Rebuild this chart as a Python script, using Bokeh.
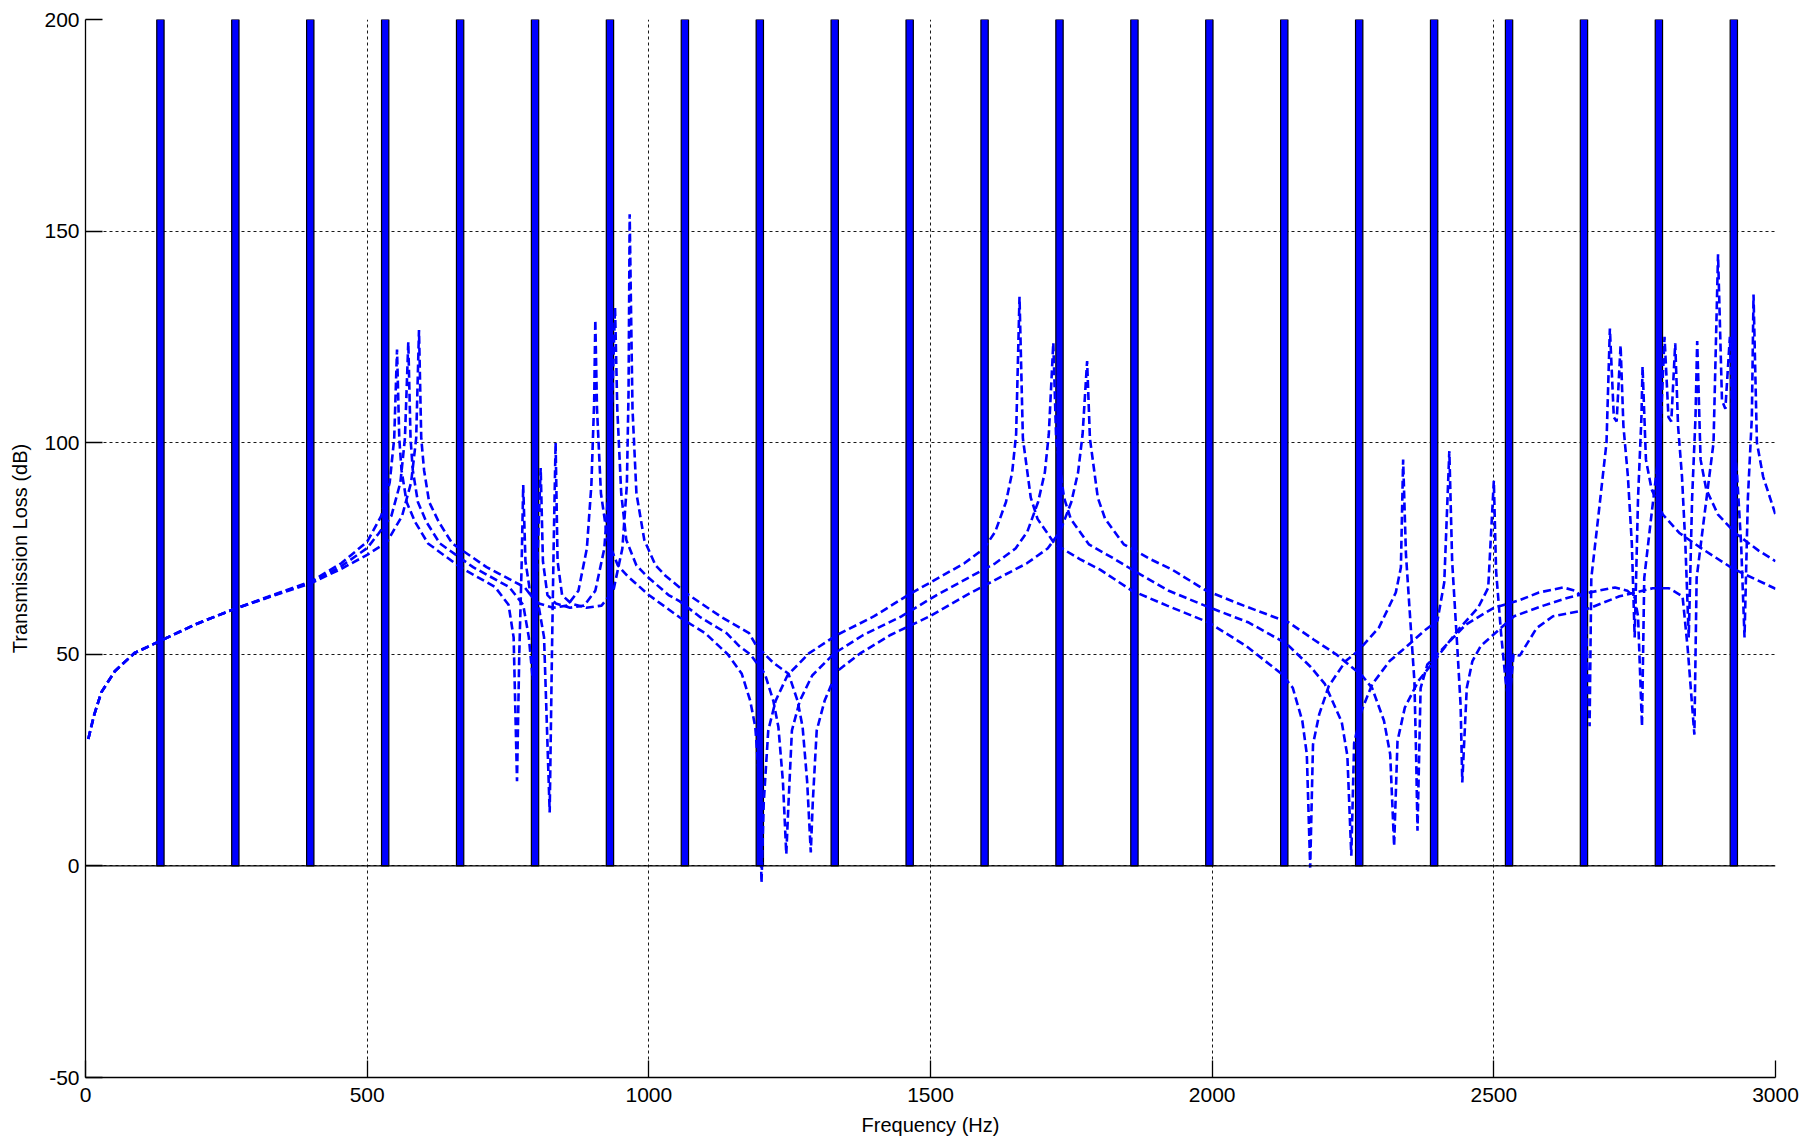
from bokeh.plotting import figure
from bokeh.models import FixedTicker, Span, Range1d
from bokeh.embed import file_html
from bokeh.resources import INLINE

# ---------------- data ----------------
x_ticks = [0, 500, 1000, 1500, 2000, 2500, 3000]
y_ticks = [-50, 0, 50, 100, 150, 200]
y_tick_labels = {-50: "-50", 0: "0", 50: "50", 100: "100", 150: "150", 200: "200"}

# harmonic bars (Hz) and their height (dB)
bar_freq = [133, 266, 399, 532, 665, 798, 931, 1064, 1197, 1330, 1463,
            1596, 1729, 1862, 1995, 2128, 2261, 2394, 2527, 2660, 2793, 2926]
bar_top = [200, 200, 200, 200, 200, 200, 200, 200, 200, 200, 200,
           200, 200, 200, 200, 200, 200, 200, 200, 200, 200, 200]

# curve A
fA = [5, 15, 28, 52, 87, 130, 194, 260, 324, 400, 454, 500, 525, 540, 548, 553, 557, 561, 570, 585,
      608, 665, 727, 751, 760, 766, 770, 774, 777, 781, 790, 805, 830, 855, 875, 890, 898, 903, 905, 908,
      915, 927, 945, 962, 1000, 1055, 1100, 1140, 1165, 1180, 1189, 1196, 1200, 1204, 1212, 1225, 1246,
      1284, 1333, 1400, 1460, 1520, 1560, 1595, 1615, 1634, 1645, 1652, 1658, 1664, 1678, 1690, 1721,
      1765, 1801, 1858, 1920, 1994, 2060, 2123, 2143, 2160, 2168, 2174, 2179, 2190, 2207, 2237, 2259,
      2296, 2326, 2335, 2339, 2344, 2353, 2359, 2362, 2364.5, 2370, 2382, 2394, 2450, 2500, 2546, 2580,
      2623, 2645, 2657, 2663, 2670, 2673, 2685, 2700, 2706, 2713, 2718, 2725, 2730, 2738, 2745, 2750,
      2756, 2762, 2764, 2770, 2780, 2800, 2830, 2870, 2925, 3000]
tlA = [30, 35.5, 41, 46, 50.3, 53, 57, 60.5, 63.6, 67.2, 71.5, 76.6, 82.7, 90.6, 101, 122, 101, 93.5, 86, 81.3,
       76.2, 70.6, 65.9, 61.7, 54, 20, 50, 70, 90, 72, 64, 62, 61, 61.5, 65, 75, 90, 110, 129, 108,
       88, 77, 71, 68.5, 64, 58.7, 55, 50, 45.4, 39, 32.8, 20, -4, 15, 32, 39, 45,
       50.2, 54.5, 59, 64, 68.5, 71.5, 75, 79, 86, 93, 102, 134.5, 101, 87, 82, 76,
       72.5, 70, 65, 61.5, 57.5, 52, 45.4, 42.1, 34.3, 26.4, -0.4, 28.7, 35.8, 42.5, 48.4, 50.8,
       56.3, 64.6, 70.5, 96, 73.6, 55.5, 43.7, 26.4, 8.3, 42, 47.6, 49.2, 57, 61, 62.8, 64.6,
       65.8, 65, 63.5, 59, 33, 68, 82, 100, 127, 106, 105, 123, 104, 92, 76, 54,
       87, 106, 118, 96, 89, 83, 78.6, 74.9, 70.2, 65.5]

# curve B
fB = [5, 15, 28, 52, 87, 130, 194, 260, 324, 400, 454, 500, 520, 543, 559, 567, 573, 577, 581, 590,
      605, 629, 688, 752, 777, 787, 794, 798, 803, 808, 812, 820, 835, 860, 885, 905, 921, 929, 935, 940,
      944, 951, 960, 978, 996, 1035, 1055, 1092, 1138, 1160, 1180, 1206, 1221, 1230, 1238, 1244, 1248,
      1254, 1268, 1290, 1329, 1380, 1449, 1511, 1573, 1615, 1651, 1672, 1691, 1703, 1710, 1718, 1723,
      1737, 1749, 1781, 1827, 1864, 1923, 1987, 2065, 2132, 2175, 2200, 2230, 2240, 2247, 2252, 2265,
      2284, 2315, 2338, 2376, 2400, 2412, 2421, 2426, 2435, 2441, 2444, 2452, 2462, 2477, 2536, 2588,
      2635, 2670, 2715, 2737, 2750, 2756, 2763, 2767, 2779, 2795, 2803, 2810, 2815, 2822, 2827, 2834,
      2840, 2846, 2852, 2858, 2861, 2867, 2877, 2898, 2929, 2970, 3000]
tlB = [30, 35.5, 41, 46, 50.3, 53, 57, 60.5, 63.5, 67, 70.8, 75.1, 78.5, 82.7, 90.6, 101, 123.8, 101, 93.5, 86,
       81.3, 76.2, 70.6, 65.9, 61.7, 54, 44, 55, 75, 94, 72, 64, 62, 61, 61.5, 65, 75, 90, 110, 132,
       108, 88, 77, 71, 68.5, 64, 62.5, 58.7, 55, 52, 50, 45.4, 39, 32.8, 20, 2.8, 15,
       32, 39, 45, 50.2, 54.5, 59, 64, 68.5, 71.5, 75, 79, 86, 93, 102, 123.6, 101,
       87, 82, 76, 72.5, 69.5, 65, 61.5, 57.5, 52.5, 47, 43, 34, 26, 2.4, 29, 36.6,
       42.9, 48.4, 51, 55.5, 58, 67, 98, 72, 52, 38, 19.7, 42.1, 48.4, 52, 59, 61.5,
       63.5, 64.6, 65.8, 65, 63.5, 59, 33, 68, 82, 100, 125, 106, 105, 123.5, 104, 92,
       76, 54, 87, 106, 124, 96, 89, 83, 78.6, 74.5, 72]

# curve C
fC = [5, 15, 28, 52, 87, 130, 194, 260, 324, 400, 454, 500, 535, 562, 578, 587, 592, 596, 601, 610,
      627, 651, 712, 779, 804, 814, 824, 828, 831, 834.5, 838, 846, 862, 889, 916, 937, 953, 961, 964, 966,
      968, 971, 978, 992, 1012, 1030, 1071, 1130, 1178, 1191, 1221, 1248, 1264, 1273, 1281, 1287.5, 1291,
      1298, 1312, 1334, 1375, 1428, 1499, 1564, 1628, 1671, 1708, 1730, 1750, 1762, 1770, 1778, 1783,
      1797, 1810, 1843, 1890, 1929, 1990, 2056, 2136, 2180, 2220, 2266, 2284, 2305, 2316, 2323, 2329,
      2342, 2366, 2394, 2440, 2472, 2490, 2500, 2504, 2513, 2521, 2527, 2535, 2546, 2576, 2605, 2660,
      2723, 2782, 2811, 2835, 2844, 2856, 2860, 2873, 2890, 2898, 2905, 2911, 2919, 2924, 2932, 2939,
      2945, 2951, 2958, 2961, 2967, 2978, 3000]
tlC = [30, 35.5, 41, 46, 50.3, 53, 57, 60.5, 63.4, 66.8, 70.2, 73.5, 76.5, 82.7, 90.6, 101, 126.6, 101, 93.5, 86,
       81.3, 76.2, 70.6, 65.9, 61.7, 54, 12.6, 50, 75, 100, 72, 64, 62, 61, 61.5, 65, 75, 90, 112, 154,
       135, 108, 88, 77, 71, 68.5, 64, 58.7, 55, 52, 48, 45.4, 39, 32.8, 20, 3.2, 15,
       32, 39, 46, 50.2, 54.5, 59, 64, 68.5, 71.5, 75, 79, 86, 93, 102, 119.3, 101,
       87, 82, 76, 72.5, 70, 65, 61.5, 57.5, 53.5, 50, 45, 42, 34.3, 26.4, 4.7, 29.5,
       37.4, 43.7, 48.4, 56.3, 61, 65.7, 91, 69.7, 54.7, 43.7, 38, 50, 49.7, 56.2, 59, 60.4,
       63.7, 65.6, 65.6, 63.7, 51.6, 31, 68, 82, 100, 144.5, 110, 108, 125, 104, 92, 76,
       54, 87, 106, 135, 100, 92, 83]

# ---------------- figure ----------------
FONT = "Liberation Sans"

p = figure(width=1804, height=1138, output_backend="svg", toolbar_location=None,
           x_range=Range1d(0, 3000), y_range=Range1d(-50, 200),
           min_border_left=85, min_border_right=29, min_border_top=19, min_border_bottom=60)
p.outline_line_color = None
p.background_fill_color = "white"
p.border_fill_color = "white"

# bars
p.vbar(x=bar_freq, width=13, top=bar_top, bottom=0,
       fill_color="#0000FF", line_color="black", line_width=1.2)

# bar baseline
p.add_layout(Span(location=0, dimension="width", line_color="black", line_width=1.3))

# curves
for f, tl in ((fA, tlA), (fB, tlB), (fC, tlC)):
    p.line(f, tl, line_color="#0000FF", line_width=2.6, line_dash="8 4")

# axes
p.xaxis.ticker = FixedTicker(ticks=x_ticks)
p.yaxis.ticker = FixedTicker(ticks=y_ticks)
p.yaxis.major_label_overrides = y_tick_labels
p.xaxis.axis_label = "Frequency (Hz)"
p.yaxis.axis_label = "Transmission Loss (dB)"
for ax in (p.xaxis, p.yaxis):
    ax.axis_line_color = "black"
    ax.axis_line_width = 1.3
    ax.major_tick_line_color = "black"
    ax.major_tick_line_width = 1.3
    ax.major_tick_in = 17
    ax.major_tick_out = 0
    ax.minor_tick_line_color = None
    ax.major_label_text_font = FONT
    ax.major_label_text_font_size = "21px"
    ax.major_label_text_color = "black"
    ax.axis_label_text_font = FONT
    ax.axis_label_text_font_size = "20px"
    ax.axis_label_text_font_style = "normal"
    ax.axis_label_text_color = "black"
p.xaxis.major_label_standoff = 10
p.xaxis.axis_label_standoff = 9
p.yaxis.major_label_standoff = 6
p.yaxis.axis_label_standoff = 10

# grid
for g in (p.xgrid, p.ygrid):
    g.grid_line_color = "black"
    g.grid_line_width = 1
    g.grid_line_dash = "3 3"
    g.grid_line_alpha = 0.9

open("out.html", "w").write(file_html(p, INLINE))
